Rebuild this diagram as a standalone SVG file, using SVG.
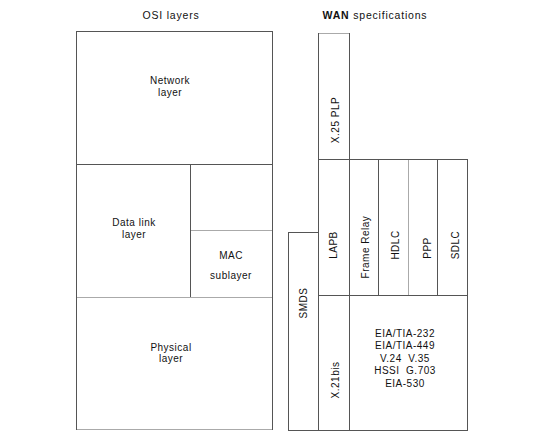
<svg xmlns="http://www.w3.org/2000/svg" width="552" height="433" viewBox="0 0 552 433">
<style>
.b{fill:none;stroke:#555;stroke-width:1}
.l{fill:none;stroke:#aaa;stroke-width:1}
text{font-family:"Liberation Sans",Arial,sans-serif;font-size:10px;fill:#111;text-anchor:middle;letter-spacing:0.5px;white-space:pre}
.h{font-size:10.5px;letter-spacing:0.8px}
</style>
<rect width="552" height="433" fill="#fff"/>
<text class="h" x="171" y="19">OSI layers</text>
<text class="h" x="375" y="19"><tspan font-weight="bold">WAN</tspan> specifications</text>
<g id="network"><rect class="b" x="76.5" y="31.5" width="196" height="133"/><text x="170" y="84">Network</text><text x="170" y="96">layer</text></g>
<g id="datalink"><rect class="b" x="76.5" y="164.5" width="114" height="133"/><text x="134" y="226">Data link</text><text x="134" y="238">layer</text></g>
<g id="llc"><rect class="b" x="190.5" y="164.5" width="82" height="66"/></g>
<g id="mac"><rect class="b" x="190.5" y="230.5" width="82" height="67"/><path class="l" d="M191 230.5H272"/><text x="231" y="259">MAC</text><text x="231" y="279">sublayer</text></g>
<g id="physical"><rect class="b" x="76.5" y="297.5" width="196" height="132"/><path class="l" d="M77 297.5H272M77 429.5H272"/><text x="171" y="351">Physical</text><text x="171" y="362">layer</text></g>
<g id="x25plp"><rect class="b" x="318.5" y="33.5" width="31" height="126"/><path class="l" d="M319 33.5H349"/><text transform="translate(338.5,120) rotate(-90)">X.25 PLP</text></g>
<g id="lapb"><rect class="b" x="318.5" y="159.5" width="31" height="136"/><text transform="translate(337,245) rotate(-90)">LAPB</text></g>
<g id="framerelay"><rect class="b" x="349.5" y="159.5" width="29" height="136"/><text transform="translate(368.5,247) rotate(-90)">Frame Relay</text></g>
<g id="hdlc"><rect class="b" x="378.5" y="159.5" width="30" height="136"/><text transform="translate(398.5,245) rotate(-90)">HDLC</text></g>
<g id="ppp"><rect class="b" x="408.5" y="159.5" width="29" height="136"/><path class="l" d="M408.5 160V295"/><text transform="translate(430.5,248) rotate(-90)">PPP</text></g>
<g id="sdlc"><rect class="b" x="437.5" y="159.5" width="30" height="136"/><text transform="translate(458.5,245) rotate(-90)">SDLC</text></g>
<g id="smds"><rect class="b" x="288.5" y="232.5" width="30" height="198"/><text transform="translate(306.5,303) rotate(-90)">SMDS</text></g>
<g id="x21bis"><rect class="b" x="318.5" y="295.5" width="31" height="135"/><text transform="translate(338.5,380) rotate(-90)">X.21bis</text></g>
<g id="physical-specs"><rect class="b" x="349.5" y="295.5" width="118" height="135"/>
<text x="405" y="337">EIA/TIA-232</text><text x="405" y="349">EIA/TIA-449</text><text x="405" y="362">V.24  V.35</text><text x="405" y="374">HSSI  G.703</text><text x="405" y="387">EIA-530</text></g>
<g id="connectors"></g>
</svg>
